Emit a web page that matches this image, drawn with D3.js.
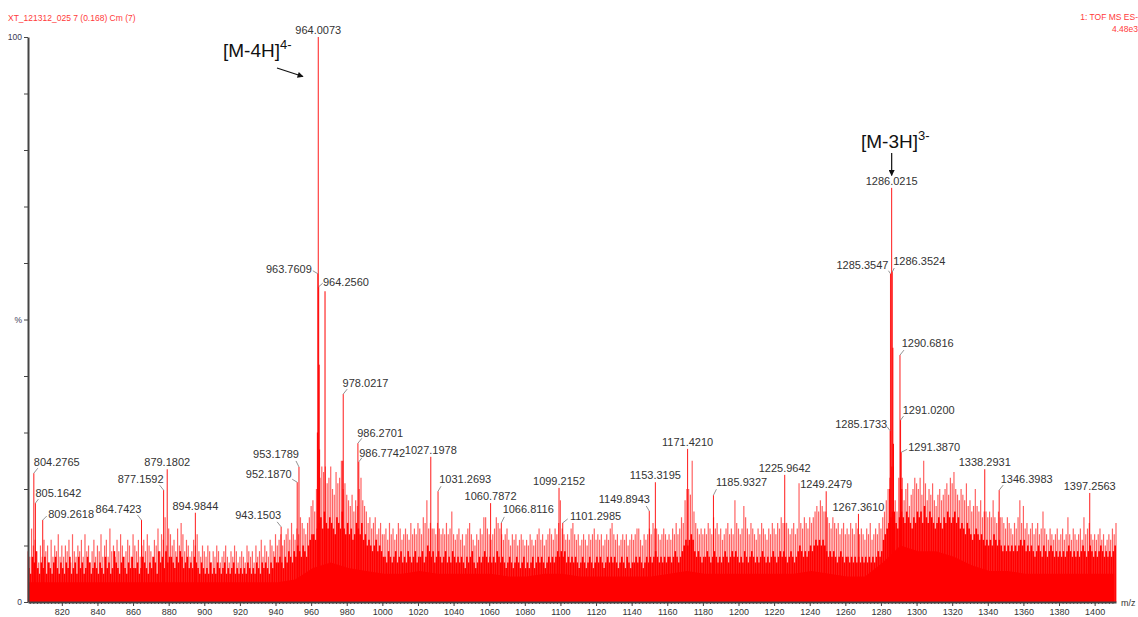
<!DOCTYPE html>
<html><head><meta charset="utf-8">
<script src="https://cdn.jsdelivr.net/npm/d3@7"></script>
<style>
body{margin:0;background:#fff;}
svg{display:block;font-family:"Liberation Sans",Arial,sans-serif;}
</style></head><body>
<svg id="chart" width="1138" height="617"></svg>
<script>
// ---- spectrum data ----
const mzRange = [801, 1412];
const xTickValues = d3.range(820, 1401, 20);
const yTickValues = d3.range(0, 101, 10);
const yTickText = {0: "0", 50: "%", 100: "100"};

// labelled peaks (m/z, relative intensity %)
const peakMz = [804.2765, 805.1642, 809.2618, 864.7423, 877.1592, 879.1802, 894.9844, 943.1503, 952.1870, 953.1789,
  963.7609, 964.0073, 964.2560, 978.0217, 986.2701, 986.7742, 1027.1978, 1031.2693, 1060.7872, 1066.8116,
  1099.2152, 1101.2985, 1149.8943, 1153.3195, 1171.4210, 1185.9327, 1225.9642, 1249.2479, 1267.3610,
  1285.1733, 1285.3547, 1286.0215, 1286.3524, 1290.6816, 1291.0200, 1291.3870, 1338.2931, 1346.3983, 1397.2563];
const peakInt = [22.8, 17.5, 14.5, 14.5, 19.8, 23.5, 15.8, 13.3, 21.2, 23.9,
  58.1, 100, 55.8, 36.8, 28.1, 24.8, 25.7, 19.6, 17.5, 14.0,
  20.2, 14.0, 16.1, 21.2, 27.1, 18.9, 22.5, 19.6, 15.6,
  30.3, 58.1, 73.3, 58.4, 43.7, 32.2, 26.5, 23.5, 19.8, 19.3];

// unlabelled isotope / cluster peaks
const isoMz = [963.51, 964.51, 964.76, 967.8, 977.77, 1284.84, 1286.69, 1287.02, 1291.72];
const isoInt = [30, 42, 27, 55, 25, 20, 45, 28, 20];

// background spikes, one value per integer m/z starting at 801
const noiseStartMz = 801;
const noiseInt = [
  9,8,13,10,11,9,7,10,8,11,9,10,7,11,8,10,9,12,8,10,
  8,10,9,11,7,12,9,8,10,9,11,8,12,9,10,7,9,11,8,10,
  9,12,8,10,11,8,13,9,10,8,11,9,12,10,8,9,11,10,8,12,
  10,9,11,8,10,11,9,12,10,9,8,11,10,13,9,12,11,15,10,13,
  12,10,11,9,13,10,14,12,9,11,10,8,9,11,10,12,9,8,10,9,
  8,10,9,7,9,8,10,9,7,8,9,10,8,7,9,8,10,9,7,8,
  9,8,7,10,9,8,9,7,10,8,9,11,8,10,9,8,11,10,9,12,
  10,11,12,10,11,12,13,11,14,12,11,13,12,15,14,13,12,14,15,17,
  18,16,20,20,22,24,23,24,21,22,24,20,19,23,21,22,25,20,21,19,
  18,17,19,16,18,17,20,22,18,17,16,14,15,13,14,15,12,13,14,12,
  12,13,11,14,12,13,11,12,14,13,11,12,13,12,11,14,12,13,12,14,
  13,12,15,14,18,13,14,13,13,12,14,13,12,13,12,14,12,13,16,12,
  11,12,13,11,12,10,12,13,14,12,11,10,12,11,13,12,15,15,13,12,
  11,12,13,15,14,13,12,11,12,13,11,10,12,11,12,10,11,12,11,10,
  11,10,12,11,10,11,12,13,11,12,10,11,12,13,12,11,13,12,14,18,
  13,12,11,12,11,13,14,12,11,12,10,11,12,11,10,12,11,12,13,11,
  12,11,12,10,11,12,11,13,14,12,11,12,10,11,12,11,12,10,11,12,
  11,12,13,13,11,10,12,11,12,13,12,14,13,13,12,11,12,13,12,11,
  12,11,13,12,14,12,13,15,14,18,20,20,19,25,16,14,13,12,13,12,
  13,12,14,13,12,15,13,14,12,13,11,12,13,14,12,13,12,18,14,13,
  12,13,17,15,13,12,14,13,12,11,13,12,14,13,12,11,13,12,14,13,
  12,14,13,15,14,14,14,13,12,13,14,12,13,21,14,13,15,14,13,15,
  14,15,16,17,16,18,17,16,16,15,14,13,15,14,13,14,12,13,14,12,
  13,12,14,13,12,14,13,12,13,12,11,13,12,14,11,12,13,12,14,13,
  15,16,18,20,22,24,24,18,16,22,22,22,18,20,21,17,19,20,22,21,
  20,22,19,25,21,18,20,19,21,18,17,19,20,18,19,20,21,19,22,21,
  23,20,19,18,20,19,18,21,17,18,16,17,20,17,16,18,15,16,16,15,
  16,15,18,15,14,16,15,15,14,13,15,14,13,12,14,13,15,18,14,17,
  13,14,12,13,14,12,13,14,12,13,16,13,12,11,13,12,11,12,13,11,
  12,13,11,12,15,12,11,13,12,11,12,13,11,15,12,13,14,12,11,12,
  11,12,13,11,12,10,11,12,11,13,12,14
];

// dense low-level signal, one value per half-integer m/z starting at 801.5
const denseStartMz = 801.5;
const denseInt = [
  6,5,8,7,9,6,5,7,6,8,5,7,6,5,7,8,6,5,7,6,
  5,7,6,8,5,6,7,5,8,6,7,5,6,8,7,5,6,7,6,5,
  7,6,5,8,6,7,5,6,9,7,6,5,7,8,6,5,7,6,8,6,
  6,7,5,6,8,7,6,5,7,6,8,7,5,9,7,8,6,9,7,8,
  8,7,6,8,7,9,8,6,7,8,6,7,6,8,7,6,5,7,6,5,
  6,5,7,5,6,5,7,6,5,6,7,5,6,5,6,7,5,6,5,6,
  5,6,5,7,6,5,6,5,7,6,5,7,6,7,6,5,7,6,8,7,
  7,8,7,6,8,7,9,8,7,9,8,10,9,8,10,9,8,10,11,12,
  12,11,13,14,15,13,16,14,13,15,14,13,12,15,14,13,16,13,12,14,
  12,13,11,12,14,13,12,14,11,12,10,11,10,9,10,11,9,10,9,8,
  8,7,9,8,7,8,9,7,8,9,7,8,7,9,8,7,8,9,7,8,
  8,9,7,8,10,9,8,9,7,8,9,8,7,8,9,7,8,7,9,8,
  7,8,7,8,7,6,8,7,8,9,7,6,7,8,7,8,9,8,7,8,
  7,8,7,9,8,7,8,7,6,7,8,7,6,7,8,7,6,7,8,6,
  7,6,7,8,6,7,8,7,8,7,6,7,8,7,8,7,8,9,8,9,
  8,9,7,8,7,8,7,8,7,6,7,8,7,6,7,8,7,6,7,8,
  7,8,7,6,7,8,7,8,7,8,7,6,7,8,7,6,8,7,6,7,
  7,8,7,8,7,6,7,8,7,8,7,8,9,8,7,8,7,8,7,8,
  8,7,8,9,8,7,8,9,10,11,10,11,12,11,9,8,9,8,7,8,
  8,9,8,7,8,9,8,7,8,7,8,9,8,7,8,9,8,9,8,7,
  8,7,9,8,7,8,9,8,7,8,7,8,9,8,7,8,7,8,9,8,
  7,8,9,8,9,8,7,8,9,8,7,8,9,10,9,8,9,8,9,10,
  9,10,11,10,11,10,11,10,9,8,9,8,9,8,7,8,9,8,7,8,
  8,7,8,7,8,7,8,7,8,7,8,7,8,7,8,7,8,9,8,9,
  11,12,13,14,15,16,16,14,13,15,16,15,14,16,15,14,13,15,14,16,
  15,16,14,17,15,14,16,15,14,13,14,15,14,13,15,14,16,15,14,15,
  16,14,15,13,14,13,12,14,13,12,11,12,13,12,11,12,11,10,11,10,
  11,10,12,11,10,11,10,9,10,9,10,9,10,9,10,9,10,11,10,11,
  9,10,9,10,9,8,9,10,9,8,10,9,8,9,10,9,8,9,8,9,
  8,9,8,9,10,9,8,9,8,9,8,9,10,9,8,9,10,9,8,9,
  8,9,10,9,8,9,8,9,8,9,10
];

// solid baseline level, one value every 10 m/z starting at 801
const floorStep = 10;
const floorInt = [3.5,3.5,3.5,3.5,3.5,3.5,3.5,3.5,3.5,3.5, 3.5,3.5,3.5,3.5,3.5,4,6,7,6,5.5,
  5,5,5.5,5,5,5,5,4.5,4.5,5, 5,4.5,4.5,4.5,4.5,4.5,5,5.5,5,5,
  5,5,5,5,5.5,5,4.5,4.5,7,10, 9,9,8,6.5,5.5,5.5,5,5,5,5, 5,5];

// label placement: anchor (m = above, s = right, e = left), text offset, leader end offset
const labelLayout = [
  ["s",0,-7,4,-5],["s",0,-6.5,3,-4],["s",5.5,-2.5,4,-4],["e",0,-7,-4,-5],["e",0,-7.5,-4,-5],
  ["m"],["m"],["e",0,-7.5,-4,-5],["e",-5.5,-4,-5,-3],["e",0,-8.5,-3,-6],
  ["e",-6,-1,-5,-3],["m"],["s",4.3,-0.7,4,-3.5],["s",-0.6,-7,4,-5],["s",-0.7,-6.5,4,-5],["s",0.4,-5,3,-4],
  ["m"],["s",1.2,-8,3,-5],["m"],["s",1.3,-10,3,-6],
  ["m"],["s",7.2,-3,5,-4],["e",0.7,-7.7,-3,-5],["m"],["m"],["s",2.5,-9,3,-6],["m"],["m"],["m"],
  ["e",-3,-2.5,-3,-4],["e",-2,-5,-2,-3],["m"],["s",1,-7,2,-4],["s",1.7,-7.8,4,-5],["s",2.1,-6,3,-4],["s",7,-1.6,6,-3],
  ["m"],["s",1.5,-7.4,4,-5],["m"]
];

// ---- drawing ----
const svg = d3.select("#chart");
const x = d3.scaleLinear().domain(mzRange).range([28, 1116]);
const y = d3.scaleLinear().domain([0, 100]).range([602, 37]);
const RED = "#ff0000";

const noise = noiseInt.map((v, i) => ({mz: noiseStartMz + i, v}));
const dense = denseInt.map((v, i) => ({mz: denseStartMz + i, v}));
const floor = floorInt.map((v, i) => ({mz: mzRange[0] + i * floorStep, v}));
const peaks = peakMz.map((m, i) => ({mz: m, v: peakInt[i], label: m.toFixed(4), lay: labelLayout[i]}));
const iso = isoMz.map((m, i) => ({mz: m, v: isoInt[i]}));

function sticks(g, data, cls, width, opacity) {
  g.selectAll("line." + cls).data(data).join("line").attr("class", cls)
    .attr("x1", d => x(d.mz)).attr("x2", d => x(d.mz))
    .attr("y1", y(0)).attr("y2", d => y(d.v))
    .attr("stroke", RED).attr("stroke-width", width).attr("stroke-opacity", opacity);
}

const spec = svg.append("g");
sticks(spec, noise, "noise", 1.2, 0.62);
sticks(spec, dense, "dense", 1.7, 1);
spec.append("path").datum(floor)
  .attr("d", d3.area().x(d => x(d.mz)).y0(y(0)).y1(d => y(d.v)))
  .attr("fill", RED);
sticks(spec, iso, "iso", 1, 1);
sticks(spec, peaks, "peak", 1, 0.9);

// peak labels with short leader lines
const lab = svg.append("g").attr("font-size", 11).attr("fill", "#333");
peaks.forEach(p => {
  const px = x(p.mz), py = y(p.v), L = p.lay;
  if (L[0] === "m") {
    lab.append("text").attr("x", px).attr("y", py - 3).attr("text-anchor", "middle").text(p.label);
  } else {
    lab.append("line").attr("x1", px).attr("y1", py).attr("x2", px + L[3]).attr("y2", py + L[4])
      .attr("stroke", "#777").attr("stroke-width", 0.8);
    lab.append("text").attr("x", px + L[1]).attr("y", py + L[2])
      .attr("text-anchor", L[0] === "s" ? "start" : "end").text(p.label);
  }
});

// axes
const axisColor = "#444";
const xMinor = svg.append("g").attr("transform", `translate(0,${y(0)})`)
  .call(d3.axisBottom(x).tickValues(d3.range(802, 1412, 2)).tickSize(2).tickSizeOuter(0).tickFormat(""));
xMinor.select(".domain").remove();
xMinor.selectAll("line").attr("stroke", axisColor);
const xAx = svg.append("g").attr("transform", `translate(0,${y(0)})`)
  .call(d3.axisBottom(x).tickValues(xTickValues).tickSize(4).tickSizeOuter(0).tickPadding(3)
    .tickFormat(d3.format("d")));
xAx.select(".domain").attr("stroke", axisColor).attr("stroke-width", 2);
xAx.selectAll(".tick line").attr("stroke", axisColor);
xAx.selectAll("text").attr("font-size", 9).attr("fill", "#333").attr("font-family", "Liberation Sans, Arial, sans-serif");

const yAx = svg.append("g").attr("transform", `translate(28,0)`)
  .call(d3.axisLeft(y).tickValues(yTickValues).tickSize(4).tickSizeOuter(0).tickPadding(2)
    .tickFormat(d => yTickText[d] || ""));
yAx.select(".domain").attr("stroke", axisColor).attr("stroke-width", 2);
yAx.selectAll(".tick line").attr("stroke", axisColor);
yAx.selectAll("text").attr("font-size", 8.5).attr("fill", "#3a3a55").attr("font-family", "Liberation Sans, Arial, sans-serif");

svg.append("text").attr("x", 1121).attr("y", 606).attr("font-size", 9).attr("fill", "#333").text("m/z");

// header texts
svg.append("text").attr("x", 8).attr("y", 20.5).attr("font-size", 8.5).attr("fill", "#ff3a3a")
  .text("XT_121312_025 7 (0.168) Cm (7)");
svg.append("text").attr("x", 1138).attr("y", 20).attr("text-anchor", "end").attr("font-size", 8.5).attr("fill", "#ff3a3a")
  .text("1: TOF MS ES-");
svg.append("text").attr("x", 1138).attr("y", 32).attr("text-anchor", "end").attr("font-size", 8.5).attr("fill", "#ff3a3a")
  .text("4.48e3");

// ion annotations
const defs = svg.append("defs");
defs.append("marker").attr("id", "arrowHead").attr("viewBox", "0 0 10 10").attr("refX", 9).attr("refY", 5)
  .attr("markerWidth", 7).attr("markerHeight", 6).attr("orient", "auto").attr("markerUnits", "userSpaceOnUse")
  .append("path").attr("d", "M0,0 L10,5 L0,10 z").attr("fill", "#111");

function ionLabel(tx, ty, main, sup) {
  const t = svg.append("text").attr("x", tx).attr("y", ty).attr("font-size", 19).attr("fill", "#111");
  t.append("tspan").text(main);
  t.append("tspan").attr("font-size", 13).attr("dy", -8).text(sup);
}
ionLabel(223, 57, "[M-4H]", "4-");
ionLabel(861, 148, "[M-3H]", "3-");

svg.append("line").attr("x1", 277).attr("y1", 68).attr("x2", 303).attr("y2", 76.5)
  .attr("stroke", "#111").attr("stroke-width", 1.2).attr("marker-end", "url(#arrowHead)");
svg.append("line").attr("x1", x(1286.0215)).attr("y1", 153).attr("x2", x(1286.0215)).attr("y2", 175.5)
  .attr("stroke", "#111").attr("stroke-width", 1.2).attr("marker-end", "url(#arrowHead)");
</script>
</body></html>
